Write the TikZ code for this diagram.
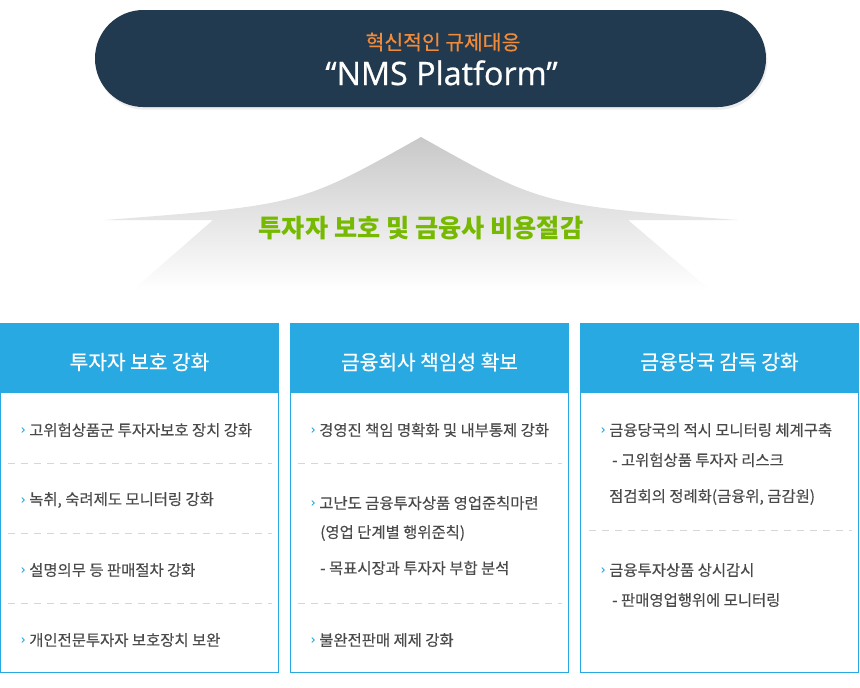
\documentclass[tikz,border=0pt]{standalone}
\usepackage{fontspec}
\setmainfont{Noto Sans CJK KR}
\newfontfamily\krfont{Noto Sans CJK KR}
\newfontfamily\krmed[FakeBold=0.5]{Noto Sans CJK KR}
\newfontfamily\krbody[FakeBold=0.25]{Noto Sans CJK KR}
\newfontfamily\latfont[FakeBold=0.7]{Open Sans}
\usetikzlibrary{shadows}
\definecolor{navy}{HTML}{223A4F}
\definecolor{orangeT}{HTML}{F08B3B}
\definecolor{greenT}{HTML}{76B900}
\definecolor{blueH}{HTML}{29A9E1}
\definecolor{txt}{HTML}{4A4A4A}
\definecolor{dashc}{HTML}{D6D6D6}
\definecolor{arrowtop}{HTML}{C8C8C8}
\tikzset{
  item/.style={anchor=west, inner sep=0pt, text=txt, font=\krbody\fontsize{11.55pt}{13pt}\selectfont},
  head/.style={inner sep=0pt, text=white, font=\krmed\fontsize{15.2pt}{17pt}\selectfont},
  colbox/.style={draw=blueH, line width=0.75pt},
  headfill/.style={fill=blueH},
  sepline/.style={draw=dashc, line width=0.75pt, dash pattern=on 5.25pt off 4.5pt},
  bul/.style={draw=blueH, line width=0.7pt},
  chev/.pic={\draw[bul] (-1.2,-2.4) -- (1.2,0) -- (-1.2,2.4);}
}
\begin{document}
\begin{tikzpicture}[x=0.75pt,y=-0.75pt]
\useasboundingbox (0,0) rectangle (860,687);
\fill[white] (0,0) rectangle (860,687);

% top pill
\fill[navy, rounded corners=36.3pt, drop shadow={shadow xshift=1pt, shadow yshift=-2pt, opacity=0.14}] (95,10) rectangle (766,107);
\node[inner sep=0pt, text=orangeT, font=\krmed\fontsize{15.3pt}{17pt}\selectfont] (sub) at (443,42) {혁신적인 규제대응};
\node[inner sep=0pt, anchor=base, text=white, font=\latfont\fontsize{24.2pt}{27pt}\selectfont] (nms) at (441.5,85) {“NMS Platform”};

% upward arrow
\shade[top color=arrowtop, bottom color=white]
  (421,137) .. controls (300,205) .. (105,220) -- (213,220) -- (133,290)
  -- (710,290) -- (628,220) -- (737,220) .. controls (542,205) .. (421,137) -- cycle;
\node[inner sep=0pt, text=greenT, font=\krfont\bfseries\fontsize{18.9pt}{21pt}\selectfont] (goal) at (421,228) {투자자 보호 및 금융사 비용절감};

% column boxes
\fill[headfill] (0,323) rectangle (279,393);
\fill[headfill] (290,323) rectangle (569,393);
\fill[headfill] (580,323) rectangle (859,393);
\draw[colbox] (0.5,323.5) rectangle (278.5,672.5);
\draw[colbox] (290.5,323.5) rectangle (568.5,672.5);
\draw[colbox] (580.5,323.5) rectangle (858.5,672.5);

\node[head] (h1) at (139.5,362) {투자자 보호 강화};
\node[head] (h2) at (429.5,362) {금융회사 책임성 확보};
\node[head] (h3) at (719.5,362) {금융당국 감독 강화};

% column 1
\pic at (23,430) {chev};
\node[item] (a1) at (29,430) {고위험상품군 투자자보호 장치 강화};
\draw[sepline] (8,463.5) -- (272,463.5);
\pic at (23,500) {chev};
\node[item] (a2) at (29,500) {녹취, 숙려제도 모니터링 강화};
\draw[sepline] (8,533.5) -- (272,533.5);
\pic at (23,570) {chev};
\node[item] (a3) at (29,570) {설명의무 등 판매절차 강화};
\draw[sepline] (8,603.5) -- (272,603.5);
\pic at (23,640) {chev};
\node[item] (a4) at (29,640) {개인전문투자자 보호장치 보완};

% column 2
\pic at (313,430) {chev};
\node[item] (b1) at (319,430) {경영진 책임 명확화 및 내부통제 강화};
\draw[sepline] (298,463.5) -- (562,463.5);
\pic at (313,503) {chev};
\node[item] (b2) at (319,503) {고난도 금융투자상품 영업준칙마련};
\node[item] (b3) at (320,533) {(영업 단계별 행위준칙)};
\node[item] (b4) at (320,568) {- 목표시장과 투자자 부합 분석};
\draw[sepline] (298,603.5) -- (562,603.5);
\pic at (313,640) {chev};
\node[item] (b5) at (319,640) {불완전판매 제제 강화};

% column 3
\pic at (603,430) {chev};
\node[item] (c1) at (609,430) {금융당국의 적시 모니터링 체계구축};
\node[item] (c2) at (612,460) {- 고위험상품 투자자 리스크};
\node[item] (c3) at (609,497) {점검회의 정례화(금융위, 금감원)};
\draw[sepline] (589,530.5) -- (852,530.5);
\pic at (603,570) {chev};
\node[item] (c4) at (609,570) {금융투자상품 상시감시};
\node[item] (c5) at (612,600) {- 판매영업행위에 모니터링};
\end{tikzpicture}
\end{document}
